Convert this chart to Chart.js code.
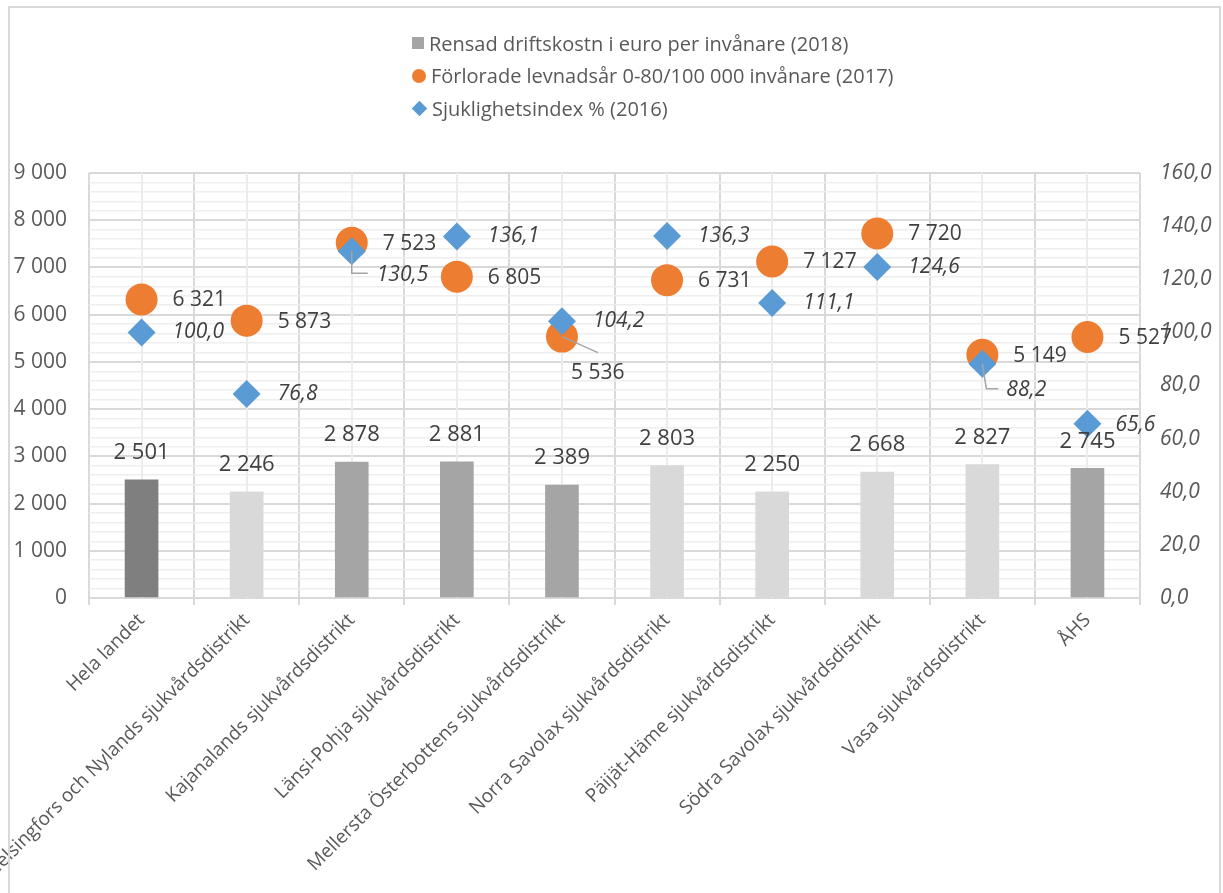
<!DOCTYPE html>
<html lang="sv">
<head>
<meta charset="utf-8">
<title>Driftskostnad, förlorade levnadsår och sjuklighetsindex</title>
<script src="https://cdn.jsdelivr.net/npm/chart.js@4/dist/chart.umd.min.js"></script>
<style>
  html, body { margin: 0; padding: 0; background: #fff; }
  body { width: 1223px; height: 893px; position: relative; overflow: hidden; font-family: "Open Sans", Lato, sans-serif; }
  #chart { position: absolute; left: 0; top: 0; }
  .frame {
    position: absolute; left: 8px; top: 6px; width: 1209px; height: 900px;
    border: 2px solid #d9d9d9; border-bottom: none; pointer-events: none;
  }
  .legend { position: absolute; left: 412px; top: 27px; color: #595959; font-size: 20px; }
  .legend div { height: 32.5px; display: flex; align-items: center; }
  .legend i { display: inline-block; margin-right: 5px; }
  .sq { width: 12px; height: 12px; background: #a5a5a5; }
  .ci { width: 14px; height: 14px; border-radius: 50%; background: #ed7d31; }
  .di { width: 11px; height: 11px; background: #5b9bd5; transform: rotate(45deg); margin-left: 2px; margin-right: 7px !important; }
</style>
</head>
<body>
<canvas id="chart" width="1223" height="893"></canvas>
<div class="frame"></div>
<div class="legend">
  <div><i class="sq"></i>Rensad driftskostn i euro per invånare (2018)</div>
  <div><i class="ci"></i>Förlorade levnadsår 0-80/100 000 invånare (2017)</div>
  <div><i class="di"></i>Sjuklighetsindex % (2016)</div>
</div>
<script>
// ── Data ─────────────────────────────────────────────────────────────────────

const districts = [
    'Hela landet',
    'Helsingfors och Nylands sjukvårdsdistrikt',
    'Kajanalands sjukvårdsdistrikt',
    'Länsi-Pohja sjukvårdsdistrikt',
    'Mellersta Österbottens sjukvårdsdistrikt',
    'Norra Savolax sjukvårdsdistrikt',
    'Päijät-Häme sjukvårdsdistrikt',
    'Södra Savolax sjukvårdsdistrikt',
    'Vasa sjukvårdsdistrikt',
    'ÅHS',
];
const driftskostnad   = [2501, 2246, 2878, 2881, 2389, 2803, 2250, 2668, 2827, 2745];
const levnadsar       = [6321, 5873, 7523, 6805, 5536, 6731, 7127, 7720, 5149, 5527];
const sjuklighetsidx  = [100.0, 76.8, 130.5, 136.1, 104.2, 136.3, 111.1, 124.6, 88.2, 65.6];
const leftTicks       = [0, 1000, 2000, 3000, 4000, 5000, 6000, 7000, 8000, 9000];
const rightTicks      = [0, 20, 40, 60, 80, 100, 120, 140, 160];

// bar shades as in the original workbook
const barColors = ['#7f7f7f', '#d9d9d9', '#a5a5a5', '#a5a5a5', '#a5a5a5',
                   '#d9d9d9', '#d9d9d9', '#d9d9d9', '#d9d9d9', '#a5a5a5'];

// ── Helpers ──────────────────────────────────────────────────────────────────

const FONT = '"Open Sans", Lato, sans-serif';
const TEXT = '#595959';
const LABEL = '#404040';

function fmtInt(n) { return String(Math.round(n)).replace(/\B(?=(\d{3})+(?!\d))/g, ' '); }
function fmtDec(n) { return n.toFixed(1).replace('.', ','); }

// label nudges (dx, dy from the marker) and leader lines for the crowded ones
const orangeNudge = { 4: { dx: 9, dy: 36, leader: [[0, 0], [36, 16]] } };
const blueNudge = {
    2: { dx: 25, dy: 24, leader: [[0, 0], [0, 22], [16, 22]] },
    8: { dx: 24, dy: 26, leader: [[0, 0], [4, 25], [16, 25]] },
    9: { dx: 28, dy: 1 },
};

// ── Plugins ──────────────────────────────────────────────────────────────────

const centerLines = {
    id: 'centerLines',
    beforeDatasetsDraw(chart) {
        const { ctx, chartArea, scales } = chart;
        ctx.save();
        ctx.strokeStyle = '#ececec';
        ctx.lineWidth = 2;
        districts.forEach((_, i) => {
            const x = Math.round(scales.x.getPixelForValue(i));
            ctx.beginPath();
            ctx.moveTo(x, chartArea.top);
            ctx.lineTo(x, chartArea.bottom);
            ctx.stroke();
        });
        ctx.restore();
    },
};

const dataLabels = {
    id: 'dataLabels',
    afterDatasetsDraw(chart) {
        const { ctx } = chart;
        ctx.save();
        ctx.fillStyle = LABEL;

        // bar values
        ctx.font = `22px ${FONT}`;
        ctx.textAlign = 'center';
        ctx.textBaseline = 'middle';
        chart.getDatasetMeta(0).data.forEach((el, i) => {
            ctx.fillText(fmtInt(driftskostnad[i]), el.x, el.y - 27);
        });

        const drawSeries = (metaIdx, values, fmt, nudges, font, defDx, defDy) => {
            chart.getDatasetMeta(metaIdx).data.forEach((el, i) => {
                const n = nudges[i] || {};
                const dx = n.dx ?? defDx, dy = n.dy ?? defDy;
                if (n.leader) {
                    ctx.strokeStyle = '#a5a5a5';
                    ctx.lineWidth = 1.5;
                    ctx.beginPath();
                    n.leader.forEach(([lx, ly], k) => {
                        k ? ctx.lineTo(el.x + lx, el.y + ly) : ctx.moveTo(el.x + lx, el.y + ly);
                    });
                    ctx.stroke();
                }
                ctx.font = font;
                ctx.textAlign = 'left';
                ctx.fillText(fmt(values[i]), el.x + dx, el.y + dy);
            });
        };
        drawSeries(1, levnadsar, fmtInt, orangeNudge, `21px ${FONT}`, 31, 1);
        drawSeries(2, sjuklighetsidx, fmtDec, blueNudge, `italic 21px ${FONT}`, 31, 0);
        ctx.restore();
    },
};

// ── Chart ────────────────────────────────────────────────────────────────────

new Chart(document.getElementById('chart').getContext('2d'), {
    data: {
        labels: districts,
        datasets: [
            {
                type: 'bar',
                label: 'Rensad driftskostn i euro per invånare (2018)',
                data: driftskostnad,
                backgroundColor: barColors,
                barThickness: 33,
                yAxisID: 'y',
                order: 3,
            },
            {
                type: 'line',
                label: 'Förlorade levnadsår 0-80/100 000 invånare (2017)',
                data: levnadsar,
                showLine: false,
                pointStyle: 'circle',
                pointRadius: 16,
                pointBackgroundColor: '#ed7d31',
                pointBorderWidth: 0,
                yAxisID: 'y',
                order: 2,
            },
            {
                type: 'line',
                label: 'Sjuklighetsindex % (2016)',
                data: sjuklighetsidx,
                showLine: false,
                pointStyle: 'rectRot',
                pointRadius: 14,
                pointBackgroundColor: '#5b9bd5',
                pointBorderWidth: 0,
                yAxisID: 'y1',
                order: 1,
            },
        ],
    },
    options: {
        responsive: false,
        animation: false,
        events: [],
        layout: { padding: { top: 173, left: 0, right: 0, bottom: 0 } },
        plugins: { legend: { display: false }, tooltip: { enabled: false } },
        scales: {
            x: {
                offset: true,
                grid: { offset: true, color: '#d9d9d9', lineWidth: 2, tickLength: 7 },
                border: { color: '#d9d9d9', width: 2 },
                ticks: {
                    autoSkip: false, minRotation: 45, maxRotation: 45, padding: 4,
                    color: TEXT, font: { family: FONT, size: 19 },
                },
                afterFit(s) { s.height = 893 - 598; s.paddingLeft = 0; s.paddingRight = 0; },
            },
            y: {
                position: 'left',
                min: leftTicks[0], max: leftTicks[leftTicks.length - 1],
                ticks: {
                    stepSize: 200, autoSkip: false, color: TEXT,
                    font: { family: FONT, size: 21 }, padding: 22,
                    callback: v => (leftTicks.includes(v) ? fmtInt(v) : ''),
                },
                grid: {
                    drawTicks: false,
                    color: c => (c.tick.value % 1000 === 0 ? '#d9d9d9' : '#eeeeee'),
                    lineWidth: c => (c.tick.value % 1000 === 0 ? 2 : 1.5),
                },
                border: { display: false },
                afterFit(s) { s.width = 89; },
            },
            y1: {
                position: 'right',
                min: rightTicks[0], max: rightTicks[rightTicks.length - 1],
                ticks: {
                    stepSize: 20, autoSkip: false, color: TEXT, padding: 20,
                    font: { family: FONT, size: 21, style: 'italic' },
                    callback: v => fmtDec(v),
                },
                grid: { drawOnChartArea: false, drawTicks: false },
                border: { display: false },
                afterFit(s) { s.width = 1223 - 1140; },
            },
        },
    },
    plugins: [centerLines, dataLabels],
});
</script>
</body>
</html>
